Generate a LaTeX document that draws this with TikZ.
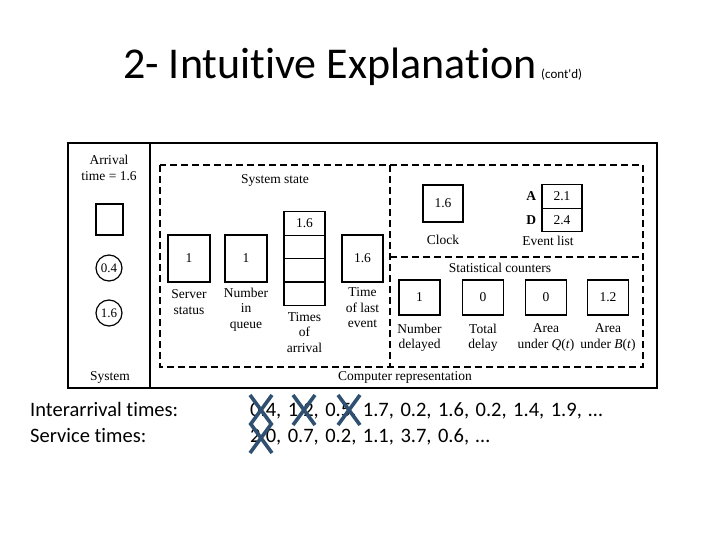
\documentclass[tikz,border=0pt]{standalone}
\usepackage{fontspec}
\setmainfont{Liberation Serif}
\newfontfamily\slidefont[Ligatures=NoCommon]{Carlito}
\usepackage{xcolor}
\usetikzlibrary{positioning}
\definecolor{crossc}{HTML}{2F5070}
\newcommand\widesp{\spaceskip=6.5pt plus 1pt\relax}
\tikzset{
  frame/.style={draw,line width=1.6pt},
  dsh/.style={draw,line width=1.2pt,dash pattern=on 7pt off 4pt},
  cell/.style={draw,line width=1.2pt,minimum width=42pt,minimum height=47pt,inner sep=0pt,font=\fontsize{13.5}{15}\selectfont},
  lbl/.style={align=center,inner sep=0pt,font=\fontsize{13.5}{15.5}\selectfont},
  ring/.style={draw,circle,line width=1.2pt,minimum size=26pt,inner sep=0pt,font=\fontsize{13}{14}\selectfont},
  slide/.style={inner sep=0pt,anchor=base west,font=\slidefont\fontsize{20.5}{24}\selectfont},
  cross/.style={line width=3.6pt,crossc}
}
\begin{document}
\begin{tikzpicture}[x=1pt,y=-1pt]
\useasboundingbox (0,0) rectangle (720,540);
% title
\node[inner sep=0pt,anchor=base west,font=\slidefont\fontsize{44}{48}\selectfont] (title) at (123,79) {2- Intuitive Explanation};
\node[inner sep=0pt,anchor=base west,font=\slidefont\fontsize{13}{15}\selectfont] (contd) at (541,79) {(cont'd)};
% outer frame
\draw[frame] (68,143) rectangle (657,388);
\draw[frame] (150,143) -- (150,388);
% system column
\node[lbl] (arr) at (109,168) {Arrival\\time = 1.6};
\node[draw,line width=1.2pt,minimum width=27pt,minimum height=31pt,inner sep=0pt] (srvsys) at (109.5,219.5) {};
\node[ring] (c1) at (109,268) {0.4};
\node[ring] (c2) at (109,313) {1.6};
\node[lbl] (sys) at (110,377) {System};
% dashed regions
\draw[dsh] (160,165) rectangle (643,367);
\draw[dsh] (390,165) -- (390,367);
\draw[dsh] (390,257) -- (643,257);
\node[lbl] (sstate) at (275,180) {System state};
\node[lbl] (comp) at (405,377) {Computer representation};
% system state
\node[cell] (srv) at (189,258.5) {1};
\node[lbl,below=7pt of srv] (srvl) {Server\\status};
\node[cell] (nq) at (246,258.5) {1};
\node[lbl,below=5pt of nq] (nql) {Number\\in\\queue};
\foreach \i/\v in {0/1.6,1/,2/,3/} {
  \node[cell,minimum width=41pt,minimum height=23.4pt] (ta\i) at (304.5,223.5+23.4*\i) {\v};
}
\node[lbl,below=6pt of ta3] (tal) {Times\\of\\arrival};
\node[cell,minimum width=41pt] (tle) at (362.5,258.5) {1.6};
\node[lbl,below=5pt of tle] (tlel) {Time\\of last\\event};
% clock and event list
\node[cell,minimum width=40pt,minimum height=37pt] (clk) at (443,203.5) {1.6};
\node[lbl,below=12pt of clk] (clkl) {Clock};
\node[cell,minimum width=40pt,minimum height=23.5pt] (evA) at (562,196.5) {2.1};
\node[cell,minimum width=40pt,minimum height=23.5pt] (evD) at (562,220) {2.4};
\node[lbl,font=\bfseries\fontsize{13.5}{15}\selectfont,left=5pt of evA] (lA) {A};
\node[lbl,font=\bfseries\fontsize{13.5}{15}\selectfont,left=5pt of evD] (lD) {D};
\node[lbl] (evl) at (548,241) {Event list};
% statistical counters
\node[lbl] (stat) at (500,268) {Statistical counters};
\foreach \n/\xx/\v/\t in {nd/419.5/1/{Number\\delayed},td/483/0/{Total\\delay},aq/546/0/{Area\\under \textit{Q}(\textit{t})},ab/608/1.2/{Area\\under \textit{B}(\textit{t})}} {
  \node[cell,minimum width=41pt,minimum height=35pt] (\n) at (\xx,297.5) {\v};
  \node[lbl,below=8pt of \n] (\n l) {\t};
}
% bottom text
\node[slide] (ia) at (30,416) {Interarrival times:};
\node[slide] (st) at (30,442) {Service times:};
\node[slide] (iav) at (250,416) {\widesp 0.4, 1.2, 0.5, 1.7, 0.2, 1.6, 0.2, 1.4, 1.9, …};
\node[slide] (stv) at (250,442) {\widesp 2.0, 0.7, 0.2, 1.1, 3.7, 0.6, …};
% crossed out values
\foreach \xa/\ya in {250/395,293/395,338/395,250/423} {
  \draw[cross] (\xa,\ya) -- ++(22,30);
  \draw[cross] (\xa+22,\ya) -- ++(-22,30);
}
\end{tikzpicture}
\end{document}
